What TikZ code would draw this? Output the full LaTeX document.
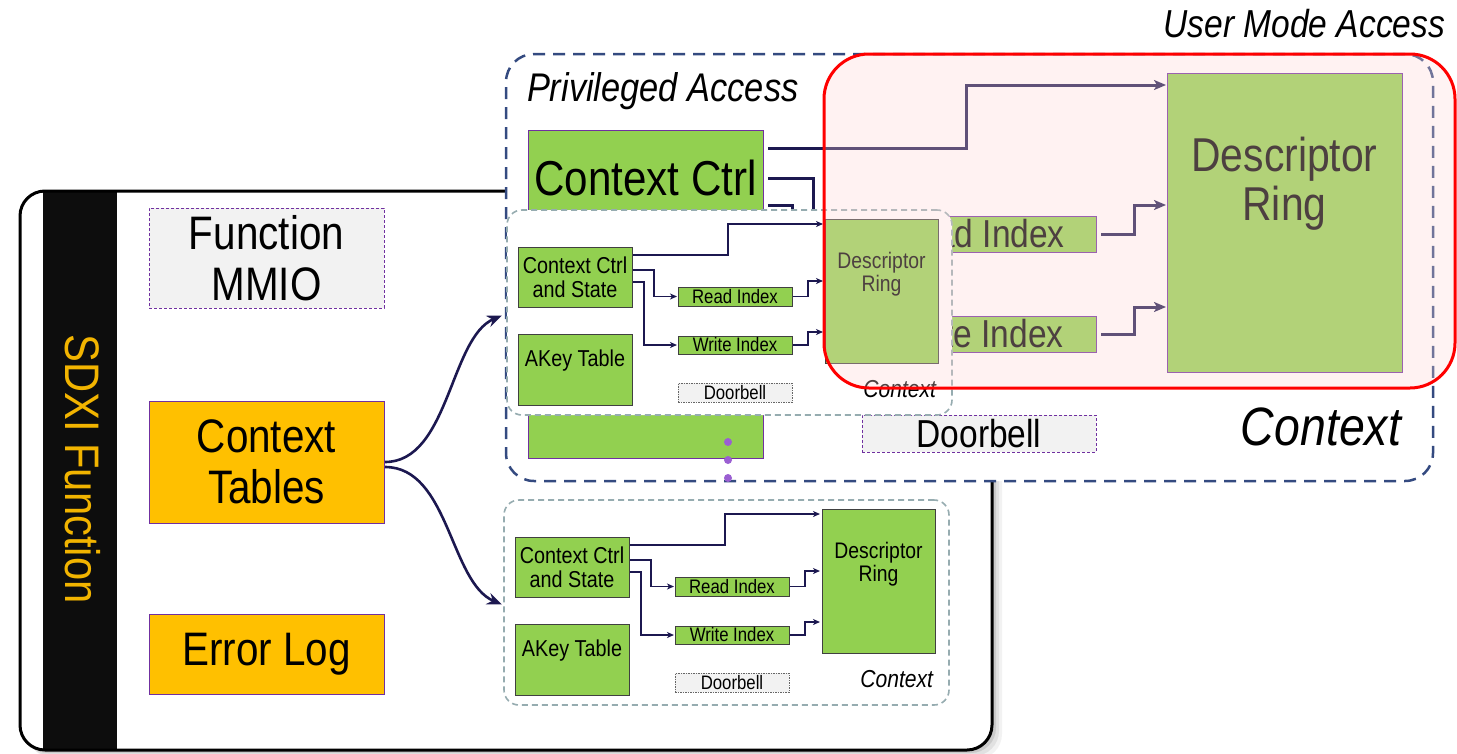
\documentclass[tikz,border=0pt]{standalone}
\usepackage{fontspec}
\setmainfont{Liberation Sans}[FakeStretch=0.86]
\usetikzlibrary{arrows.meta,calc}
\definecolor{grn}{RGB}{146,208,80}
\definecolor{org}{RGB}{255,192,0}
\definecolor{gold}{RGB}{242,180,0}
\definecolor{pur}{RGB}{112,48,160}
\definecolor{navy}{RGB}{28,24,80}
\definecolor{pablue}{RGB}{52,74,128}
\definecolor{ctxgrey}{RGB}{150,172,176}
\definecolor{dotc}{RGB}{155,95,210}
\definecolor{lgrey}{RGB}{242,242,242}
\definecolor{pinkf}{RGB}{255,215,215}
\definecolor{redl}{RGB}{255,0,0}
\definecolor{barblack}{RGB}{13,13,13}
\newcommand{\myfs}[2]{\fontsize{#1}{#2}\selectfont}
\tikzset{
  box/.style={draw, inner sep=0pt, outer sep=0pt, anchor=north west},
  obox/.style={box, draw=pur, line width=1pt, fill=org},
  gbig/.style={box, draw=pur, line width=1pt, fill=grn},
  gsmall/.style={box, draw=black!75, line width=0.9pt, fill=grn},
  dbox/.style={box, draw=pur, line width=0.9pt, dash pattern=on 3pt off 2pt, fill=lgrey},
  sdb/.style={box, draw=black!60, line width=0.8pt, dash pattern=on 1.5pt off 1pt, fill=lgrey},
  txt/.style={inner sep=0pt, outer sep=0pt},
  bigline/.style={draw=navy, line width=3pt, -{Stealth[length=12pt,width=10pt,inset=3pt]}},
  smline/.style={draw=navy, line width=1.4pt, -{Stealth[length=7pt,width=6pt,inset=2pt]}},
  ctline/.style={draw=navy, line width=2.6pt, -{Stealth[length=15pt,width=12pt,inset=5pt]}},
  dotnode/.style={circle, fill=dotc, inner sep=0pt, minimum size=8pt},
  ctxpic/.pic={
    \node[box, draw=ctxgrey, line width=1.6pt, dash pattern=on 6pt off 4pt, rounded corners=15pt, fill=white, minimum width=445pt, minimum height=205pt] (-box) at (0,0) {};
    \node[gsmall, minimum width=114pt, minimum height=60pt, align=center, font=\myfs{23}{24}] (-cc) at (11,37) {Context Ctrl\\and State};
    \node[gsmall, minimum width=114pt, minimum height=71pt] (-ak) at (11,124) {};
    \node[txt, anchor=base, font=\myfs{23}{24}] (-akt) at (68,156) {AKey Table};
    \node[gsmall, minimum width=114pt, minimum height=19pt, font=\myfs{19.5}{20}] (-ri) at (171,77) {Read Index};
    \node[gsmall, minimum width=114pt, minimum height=18pt, font=\myfs{19.5}{20}] (-wi) at (171,126) {Write Index};
    \node[sdb, minimum width=114pt, minimum height=19pt, font=\myfs{19.5}{20}] (-db) at (171,173) {Doorbell};
    \node[gsmall, minimum width=113pt, minimum height=144pt] (-dr) at (318,9) {};
    \node[txt, anchor=north, align=center, font=\myfs{22.5}{23}] (-drt) at (374.5,42) {Descriptor\\Ring};
    \node[txt, anchor=base east, font=\myfs{24.5}{26}\itshape] (-lab) at (429,187) {Context};
    \draw[smline] ($(-cc.north east)+(1,8)$) -- ++(95,0) |- ($(-dr.north west)+(-2,5)$);
    \draw[smline] ($(-cc.north east)+(1,23)$) -- ++(21,0) |- ($(-ri.west)+(-1,0)$);
    \draw[smline] ($(-cc.north east)+(1,35)$) -- ++(11,0) |- ($(-wi.west)+(-1,0)$);
    \draw[smline] ($(-ri.east)+(1,0)$) -- ++(15,0) |- ($(-dr.north west)+(-2,62)$);
    \draw[smline] ($(-wi.east)+(1,0)$) -- ++(15,0) |- ($(-dr.north west)+(-2,113)$);
  }
}
\begin{document}
\begin{tikzpicture}[x=1pt,y=-1pt]
\useasboundingbox (0,0) rectangle (1457,753);
% soft shadow of the function card
\fill[black, opacity=0.05, rounded corners=25pt] (29,200) rectangle (1002,759);
\fill[black, opacity=0.07, rounded corners=25pt] (26,197) rectangle (999,756);
\fill[black, opacity=0.10, rounded corners=25pt] (23,194) rectangle (996,753);
% SDXI function card
\node[box, draw=none, fill=white, rounded corners=25pt, minimum width=972pt, minimum height=559pt] (sdxi) at (20,191) {};
\node[box, draw=none, fill=barblack, minimum width=74pt, minimum height=559pt] (bar) at (43,191) {};
\draw[black, line width=3pt, rounded corners=25pt] (sdxi.north west) rectangle (sdxi.south east);
\node[txt, rotate=-90, anchor=base, font=\myfs{48.5}{50}, text=gold] (sdxit) at (65,469) {SDXI Function};
\node[dbox, minimum width=235pt, minimum height=100pt, align=center, font=\myfs{47}{51}] (mmio) at (149,208) {Function\\MMIO};
\node[obox, minimum width=235pt, minimum height=122pt, align=center, font=\myfs{47}{51}] (ct) at (149,401) {Context\\Tables};
\node[obox, minimum width=235pt, minimum height=80pt, font=\myfs{47}{51}] (el) at (149,614) {Error Log};
% privileged access context
\node[box, draw=pablue, line width=2.5pt, dash pattern=on 12pt off 8pt, rounded corners=28pt, fill=white, minimum width=927pt, minimum height=427pt] (pa) at (506,54) {};
\node[txt, anchor=base west, font=\myfs{40}{42}\itshape] (pat) at (527,101) {Privileged Access};
\node[gbig, minimum width=235pt, minimum height=328pt] (ctl) at (528,130) {};
\node[txt, anchor=base, font=\myfs{49}{50}] (ctlt) at (645.5,195) {Context Ctrl};
\node[gbig, minimum width=234pt, minimum height=36pt, font=\myfs{39}{40}] (bri) at (862,216) {Read Index};
\node[gbig, minimum width=234pt, minimum height=36pt, font=\myfs{39}{40}] (bwi) at (862,316) {Write Index};
\node[dbox, minimum width=234pt, minimum height=37pt, font=\myfs{39}{40}] (bdb) at (862,415) {Doorbell};
\node[gbig, minimum width=235pt, minimum height=299pt] (bdr) at (1167,73) {};
\node[txt, anchor=north, align=center, font=\myfs{47.5}{49}] (bdrt) at (1284.5,137) {Descriptor\\Ring};
\node[txt, anchor=base east, font=\myfs{54}{56}\itshape] (bctx) at (1401,445) {Context};
\draw[bigline] ($(ctl.north east)+(5,18)$) -- ++(198,0) |- ($(bdr.north west)+(-1,12)$);
\draw[bigline] ($(ctl.north east)+(5,48)$) -- ++(45,0) |- ($(bri.west)+(-1,0)$);
\draw[bigline] ($(ctl.north east)+(5,75)$) -- ++(24,0) |- ($(bwi.west)+(-1,0)$);
\draw[bigline] ($(bri.east)+(5,0)$) -- ++(33,0) |- ($(bdr.north west)+(-1,132)$);
\draw[bigline] ($(bwi.east)+(5,0)$) -- ++(33,0) |- ($(bdr.north west)+(-1,234)$);
\node[dotnode] (dt1) at (728,442) {};
\node[dotnode] (dt2) at (728,460) {};
\node[dotnode] (dt3) at (728,478) {};
% upper context copy
\pic (up) at (507,210) {ctxpic};
% user mode access overlay
\node[box, draw=redl, line width=3pt, rounded corners=45pt, fill=pinkf, fill opacity=0.3, minimum width=631pt, minimum height=334pt] (um) at (824,54) {};
\node[txt, anchor=base east, font=\myfs{39}{40}\itshape] (umt) at (1445,37) {User Mode Access};
% lower context copy
\pic (lo) at (504,500) {ctxpic};
% context table pointers
\draw[ctline] ($(ct.east)+(1,0)$) .. controls +(64,0) and +(-52,22) .. ($(up-box.west)+(-5,3)$);
\draw[ctline] ($(ct.east)+(1,5)$) .. controls +(64,0) and +(-52,-22) .. ($(lo-box.west)+(-2,2)$);
\end{tikzpicture}
\end{document}
